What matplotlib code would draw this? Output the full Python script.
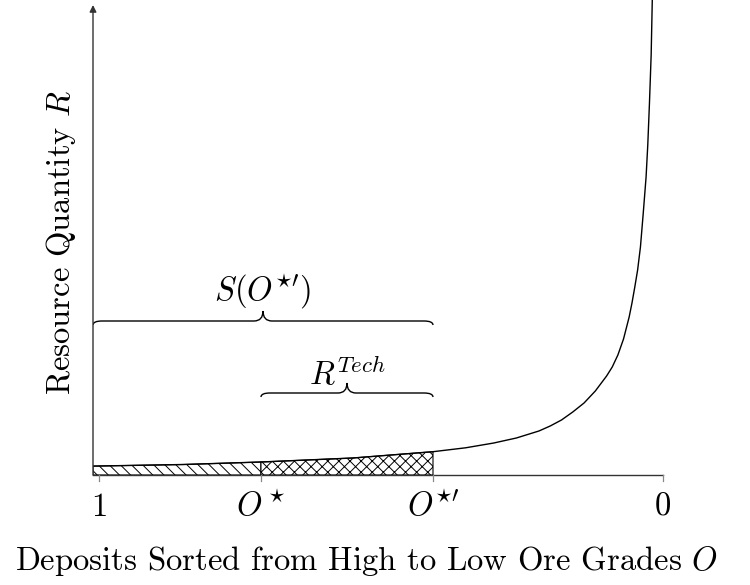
import numpy as np
import matplotlib
matplotlib.use("Agg")
import matplotlib.pyplot as plt
from matplotlib.path import Path
from matplotlib.patches import PathPatch

plt.rcParams['font.family'] = 'serif'
plt.rcParams['font.serif'] = ['cmr10', 'DejaVu Serif']
plt.rcParams['mathtext.fontset'] = 'cm'
plt.rcParams['axes.unicode_minus'] = False
plt.rcParams['hatch.linewidth'] = 0.7

# ore grade O (axis runs from 1 on the left to 0 on the right)
grade = [1.0106, 1.0, 0.85, 0.7128, 0.55, 0.4078, 0.35, 0.30, 0.26, 0.22, 0.20,
         0.18, 0.16, 0.14, 0.12, 0.10, 0.09, 0.08, 0.07, 0.06, 0.055,
         0.05, 0.045, 0.04, 0.035, 0.03, 0.027, 0.024, 0.021, 0.019]
# resource quantity R
quantity = [0.89, 0.9, 1.05, 1.3, 1.7, 2.33, 2.72, 3.2, 3.7, 4.4, 4.9,
            5.5, 6.3, 7.2, 8.4, 9.9, 10.8, 12.0, 13.6, 15.8, 17.2,
            18.8, 20.5, 22.8, 26.2, 29.8, 33.0, 37.2, 42.0, 47.5]

tick_pos = [1.0, 0.7128, 0.4078, 0.0]
tick_lab = ['1', r'$O^\star$', r'$O^{\star\prime}$', '0']
o_star = 0.7128
o_star2 = 0.4078
x_left = 1.0106

fs = 23.5
fig = plt.figure(figsize=(7.5, 5.85), dpi=100)
ax = fig.add_axes([93 / 750, 110 / 585, 570 / 750, 475 / 585])
ax.set_xlim(x_left, 0)
ax.set_ylim(0, 47.5)
ax.axis('off')

g = np.array(grade)
q = np.array(quantity)

# hatched areas under the curve
m1 = (g <= x_left) & (g >= o_star)
ax.fill_between(g[m1], 0, q[m1], facecolor='white', edgecolor='black',
                hatch='\\\\\\', linewidth=0.8)
m2 = (g <= o_star) & (g >= o_star2)
ax.fill_between(g[m2], 0, q[m2], facecolor='white', edgecolor='black',
                hatch='xxx', linewidth=0.8)

ax.plot(g, q, color='black', lw=1.0)

# axes lines
ax.plot([x_left, 0], [0, 0], color='#333333', lw=1.0, clip_on=False)
ax.annotate('', xy=(x_left, 47.0), xytext=(x_left, 0),
            arrowprops=dict(arrowstyle='-|>', color='#333333', lw=1.0,
                            mutation_scale=10, shrinkA=0, shrinkB=0))

# ticks and tick labels
tr = ax.get_xaxis_transform()
for xp, lab in zip(tick_pos, tick_lab):
    ax.plot([xp, xp], [0, -0.012], color='#888888', lw=0.9, transform=tr, clip_on=False)
    ax.text(xp, -0.0863, lab, transform=tr, ha='center', va='baseline', fontsize=fs)


def brace(x0, x1, y, col='black'):
    # curly brace in data coordinates, x0 left, x1 right (x reversed)
    px = 1 / 564.0
    py = 0.1
    r = 9 * px
    a = 4 * py
    c = 10 * py
    xm = (x0 + x1) / 2
    verts = [(x0, y - a), (x0, y), (x0 - r, y),
             (xm + r, y), (xm, y), (xm, y + c),
             (xm, y), (xm - r, y),
             (x1 + r, y), (x1, y), (x1, y - a)]
    codes = [Path.MOVETO, Path.CURVE3, Path.CURVE3,
             Path.LINETO, Path.CURVE3, Path.CURVE3,
             Path.CURVE3, Path.CURVE3,
             Path.LINETO, Path.CURVE3, Path.CURVE3]
    ax.add_patch(PathPatch(Path(verts, codes), fill=False, edgecolor=col, lw=1.0))


brace(x_left, o_star2, 15.4)
ax.text((x_left + o_star2) / 2, 18.3, r'$S(O^{\star\prime})$', ha='center', va='center', fontsize=fs)
brace(o_star, o_star2, 8.2)
ax.text((o_star + o_star2) / 2, 10.1, r'$R^{Tech}$', ha='center', va='center', fontsize=fs)

fig.text(367 / 750, 1 - 570 / 585, 'Deposits Sorted from High to Low Ore Grades $O$',
         ha='center', va='baseline', fontsize=fs)
fig.text(61 / 750, 1 - 242 / 585, 'Resource Quantity $R$', rotation=90,
         ha='center', va='center', fontsize=fs)

fig.savefig('out.png', dpi=100)
